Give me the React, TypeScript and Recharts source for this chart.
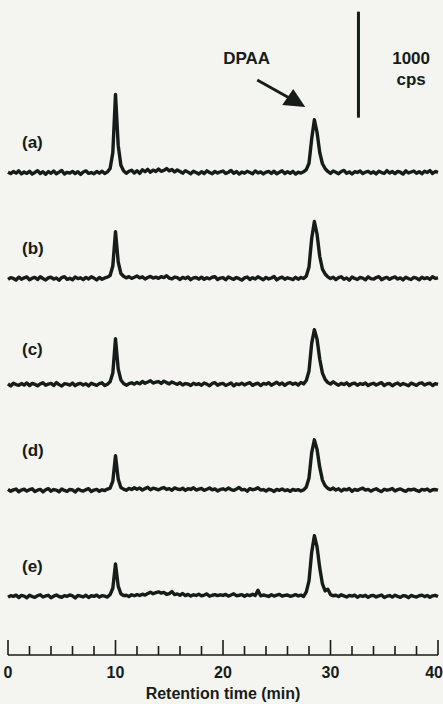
import { LineChart, Line, XAxis, YAxis, ReferenceLine, ReferenceDot } from "recharts";

// ── Data ─────────────────────────────────────────────────────────────────────
// Each trace: counts (cps) above its own baseline, one reading every 0.25 min
// from 0 to 40 min (8 readings per row = 2 min, last value is 40 min).
const STEP_MIN = 0.25;

const TRACE_A = [
  5, -8, 12, -4, 18, -10, 7, -6,
  14, -12, 3, 20, -7, 9, -14, 11,
  -5, 16, -9, 6, 22, -11, 4, -3,
  13, -8, 10, -15, 7, 18, -6, 2,
  -10, 12, -4, 15, -7, 8, 40, 190,
  740, 260, 70, 18, -5, 14, 24, -3,
  19, -6, 28, 10, 32, 5, 25, 12,
  36, 14, 22, 40, 18, 30, 8, 26,
  12, -4, 20, 6, -9, 15, 3, -12,
  10, -7, 18, 2, -10, 13, -3, 9,
  16, -8, 5, 22, -5, 11, -12, 7,
  -4, 14, 3, -9, 17, -2, 8, -11,
  6, 12, -6, 15, -10, 4, 18, -7,
  10, -5, 13, -12, 6, -3, 9, 30,
  90, 320, 500, 380, 190, 85, 40, 12,
  -6, 16, 4, -10, 12, 22, -5, 8,
  -12, 10, 3, 17, -8, 6, 14, -4,
  9, -11, 15, 2, -6, 20, -3, 11,
  -8, 13, 5, -12, 18, -2, 7, 16,
  -5, 10, -9, 14, 3, 21, -7, 12,
  4,
];

const TRACE_B = [
  -6, 10, 3, -12, 15, -4, 8, 17,
  -9, 5, 13, -7, 19, 2, -11, 9,
  14, -3, 7, -14, 11, 20, -6, 4,
  -10, 16, 1, 9, -8, 13, -2, 18,
  6, -11, 12, -5, 8, 15, 30, 120,
  445, 160, 50, 24, 8, 20, 4, 14,
  26, 9, 18, -3, 12, 22, 7, 15,
  4, 19, 11, 28, 6, -2, 16, 10,
  -7, 13, 2, 17, -9, 8, 12, -4,
  15, -6, 9, -1, 14, 20, -8, 6,
  11, -10, 17, 4, -5, 12, 1, -13,
  8, 16, -7, 10, -3, 19, 5, -9,
  13, -2, 7, 21, -11, 6, 15, -5,
  9, 2, -8, 14, -4, 11, 3, 25,
  110, 380, 540, 420, 210, 90, 45, 18,
  2, 14, -8, 10, 19, -5, 7, -12,
  16, 3, -7, 12, 6, -10, 18, 1,
  -4, 11, 20, -9, 5, 13, -6, 9,
  17, -3, 8, -11, 14, 2, -7, 12,
  5, -9, 15, 1, 10, -6, 19, 3,
  8,
];

const TRACE_C = [
  8, -12, 15, 2, -6, 11, -3, 17,
  -8, 13, 4, -10, 9, 18, -5, 6,
  12, -7, 20, 1, -13, 10, 5, -4,
  16, -9, 7, 13, -2, 9, -11, 14,
  3, -6, 10, 18, -8, 5, 28, 110,
  435, 150, 45, 12, -4, 10, 18, 6,
  22, 8, 30, 14, 26, 38, 16, 24,
  30, 12, 34, 20, 8, 26, 14, 4,
  18, -3, 11, 7, -8, 14, 2, 10,
  -5, 16, 6, -9, 12, 20, -4, 8,
  13, -7, 4, 17, -10, 9, 1, 15,
  -2, 11, 19, -6, 7, 14, -8, 12,
  5, 18, -4, 10, 24, 3, 16, -6,
  12, 20, 4, 15, -3, 22, 8, 40,
  130, 390, 520, 430, 240, 110, 50, 20,
  6, 28, 10, -4, 13, 2, 18, -7,
  9, 15, -5, 11, 3, 17, -8, 6,
  14, -3, 10, 19, -7, 8, 12, -10,
  7, 16, -4, 11, 2, -9, 15, 5,
  -6, 12, 18, -3, 9, 14, -8, 10,
  3,
];

const TRACE_D = [
  12, -5, 8, 16, -9, 6, 14, -3,
  10, 18, -7, 5, 13, -11, 9, 20,
  -4, 11, 6, -10, 17, 3, -6, 12,
  8, -12, 15, 4, -3, 10, 19, -8,
  6, 13, -5, 9, 2, 16, 25, 90,
  330, 110, 30, 15, 4, 22, 12, 28,
  14, 26, 6, 20, 32, 10, 24, 18,
  8, 22, 30, 12, 20, 5, 27, 16,
  10, 24, 3, 19, 12, 28, 6, 15,
  21, 4, 14, 26, 9, 17, -2, 12,
  18, 7, 25, 11, 3, 16, 30, 8,
  13, -4, 20, 9, 15, 28, 6, 11,
  -3, 14, 8, -7, 12, 4, 17, 1,
  9, -6, 13, 3, 10, -2, 8, 35,
  120, 360, 480, 390, 220, 100, 48, 22,
  10, 25, 6, 18, -3, 14, 8, 20,
  -5, 12, 3, 16, 24, 6, 13, -4,
  9, 18, 2, -8, 14, 5, 11, 21,
  -2, 10, 17, 4, -6, 13, 7, 15,
  3, -7, 12, 6, 16, -4, 9, 11,
  5,
];

const TRACE_E = [
  -4, 10, 3, 15, -8, 12, 6, -10,
  14, 1, -6, 11, 18, -3, 7, 13,
  -9, 5, 16, 2, -5, 10, 4, 17,
  8, -11, 12, 6, -2, 14, -7, 9,
  3, 15, -4, 10, 6, -3, 20, 80,
  310, 100, 28, 10, 14, 2, 18, 9,
  20, 12, 24, 15, 30, 42, 28, 38,
  46, 34, 40, 22, 30, 48, 20, 26,
  14, 30, 10, 22, 6, 18, 12, 24,
  8, 16, 26, 4, 14, 20, 10, 18,
  12, 22, 6, 16, 28, 9, 14, 20,
  4, 18, 10, 24, 12, 60, 8, 16,
  10, 2, 18, 6, 14, 22, 5, 12,
  16, 4, 11, 20, 7, 15, 3, 45,
  150, 420, 575, 470, 270, 120, 55, 70,
  20, 9, 14, 2, 18, 8, -3, 12,
  6, 15, -5, 10, 3, 13, -6, 9,
  12, -2, 8, 16, -7, 5, 11, -4,
  14, 3, -6, 10, 7, -9, 12, 4,
  -3, 9, 15, 1, 11, -5, 8, 13,
  2,
];

const TRACE_SERIES = [TRACE_A, TRACE_B, TRACE_C, TRACE_D, TRACE_E];
const TRACE_KEYS = ["a", "b", "c", "d", "e"];
const TRACE_NAMES = ["(a)", "(b)", "(c)", "(d)", "(e)"];
// traces are stacked 1000 cps apart, (e) at the bottom
const TRACE_SPACING = 1000;

const X_TICKS = [0, 2, 4, 6, 8, 10, 12, 14, 16, 18, 20, 22, 24, 26, 28, 30, 32, 34, 36, 38, 40];
const X_MAX = 40;
const X_TITLE = "Retention time (min)";

const SCALE_BAR_CPS = 1000;

// ── Styles / annotation placement ─────────────────────────────────────────────
const BG = "#f4f4f1";
const INK = "#161c18";
const FONT = "'Liberation Sans', Arial, Helvetica, sans-serif";
const Y_DOMAIN: [number, number] = [-550, 5630];
const LABEL_TIME = 1.3;
const LABEL_RISE = [285, 290, 330, 380, 285];
const SCALE_BAR_AT = { t: 32.6, from: 4520 };

const baseOf = (k: number) => (TRACE_SERIES.length - 1 - k) * TRACE_SPACING;

const rows = TRACE_A.map((_, i) => {
  const row: Record<string, number> = { t: i * STEP_MIN };
  TRACE_SERIES.forEach((s, k) => {
    row[TRACE_KEYS[k]] = s[i] + baseOf(k);
  });
  return row;
});

const textStyle = { fontFamily: FONT, fontWeight: 700, fontSize: 16, fill: INK };
const noteStyle = { ...textStyle, fontSize: 17 };

function TimeTick({ x, y, payload }: any) {
  const major = payload.value % 10 === 0;
  const last = payload.value === X_MAX;
  return (
    <g>
      <line x1={x} x2={x} y1={y} y2={y - (major ? 15 : 9)} stroke={INK} strokeWidth={1.6} />
      {major && (
        <text x={last ? x + 5 : x} y={y + 23} textAnchor={last ? "end" : "middle"} {...textStyle}>
          {payload.value}
        </text>
      )}
    </g>
  );
}

const Arrow = ({ cx, cy }: any) => (
  <g>
    <line x1={cx - 48} y1={cy - 27} x2={cx - 15} y2={cy - 8.5} stroke={INK} strokeWidth={2.8} />
    <polygon points={`${cx},${cy} ${cx - 23},${cy - 2} ${cx - 12},${cy - 18}`} fill={INK} />
  </g>
);

const textAt = (value: string, anchor: "start" | "middle" = "middle") => (p: any) => (
  <text x={p.cx} y={p.cy} textAnchor={anchor} dominantBaseline="central" {...noteStyle}>
    {value}
  </text>
);

export default function App() {
  return (
    <div style={{ position: "absolute", left: 0, top: 0, width: 443, height: 704, background: BG }}>
      <LineChart
        width={443}
        height={704}
        data={rows}
        margin={{ top: 0, right: 5, bottom: 0, left: 8 }}
      >
        <XAxis
          dataKey="t"
          type="number"
          domain={[0, X_MAX]}
          ticks={X_TICKS}
          interval={0}
          height={49}
          tickSize={0}
          tickMargin={0}
          tickLine={false}
          tick={<TimeTick />}
          axisLine={{ stroke: INK, strokeWidth: 1.6 }}
          label={{
            value: X_TITLE,
            position: "insideBottom",
            offset: 5,
            style: textStyle,
          }}
        />
        <YAxis hide type="number" domain={Y_DOMAIN} allowDataOverflow />

        {TRACE_KEYS.map((key) => (
          <Line
            key={key}
            dataKey={key}
            type="linear"
            stroke={INK}
            strokeWidth={3.4}
            strokeLinejoin="round"
            dot={false}
            isAnimationActive={false}
          />
        ))}

        {TRACE_NAMES.map((name, k) => (
          <ReferenceDot
            key={name}
            x={LABEL_TIME}
            y={baseOf(k) + LABEL_RISE[k]}
            r={0}
            shape={textAt(name, "start")}
          />
        ))}

        {/* 1000 cps scale bar */}
        <ReferenceLine
          segment={[
            { x: SCALE_BAR_AT.t, y: SCALE_BAR_AT.from },
            { x: SCALE_BAR_AT.t, y: SCALE_BAR_AT.from + SCALE_BAR_CPS },
          ]}
          stroke={INK}
          strokeWidth={3}
        />
        <ReferenceDot x={37.5} y={5082} r={0} shape={textAt(String(SCALE_BAR_CPS))} />
        <ReferenceDot x={37.5} y={4884} r={0} shape={textAt("cps")} />

        {/* DPAA peak marker */}
        <ReferenceDot x={22.2} y={5082} r={0} shape={textAt("DPAA")} />
        <ReferenceDot x={27.65} y={4620} r={0} shape={<Arrow />} />
      </LineChart>
    </div>
  );
}
